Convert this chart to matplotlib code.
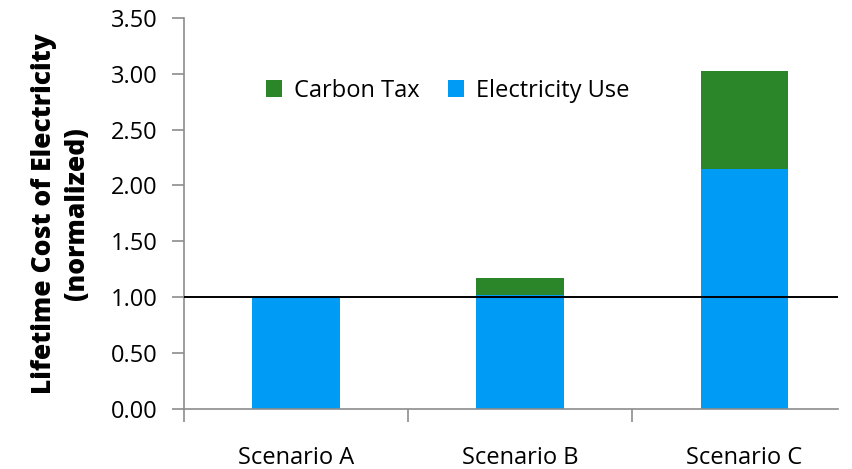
import matplotlib.pyplot as plt
import numpy as np

# Data
scenarios = ['Scenario A', 'Scenario B', 'Scenario C']
electricity_use = [1.00, 1.02, 2.15]
carbon_tax = [0.00, 0.155, 0.875]
baseline = 1.0

blue = '#009bf4'
green = '#2b8529'
grey = '#8c8c8c'

plt.rcParams['font.family'] = ['Open Sans', 'DejaVu Sans']

fig = plt.figure(figsize=(8.52, 4.69), dpi=100)
ax = fig.add_axes([0.216, 0.128, 0.768, 0.834])

x = np.arange(len(scenarios))
ax.bar(x, electricity_use, width=0.39, color=blue, label='Electricity Use', zorder=2)
ax.bar(x, carbon_tax, width=0.39, bottom=electricity_use, color=green, label='Carbon Tax', zorder=2)
ax.axhline(baseline, color='black', linewidth=1.4, zorder=3)

ax.set_xlim(-0.5, 2.42)
ax.set_ylim(0, 3.5)
ax.set_yticks(np.arange(0, 3.51, 0.5))
ax.set_yticklabels([f'{v:.2f}' for v in np.arange(0, 3.51, 0.5)], fontsize=17)

# Category labels between boundary ticks
ax.set_xticks(x)
ax.set_xticklabels(scenarios, fontsize=17)
ax.tick_params(axis='x', which='major', length=0, pad=27)
ax.set_xticks([-0.5, 0.5, 1.5], minor=True)
ax.tick_params(axis='x', which='minor', length=9, color=grey, width=1.2)
ax.tick_params(axis='y', length=9, color=grey, width=1.2, pad=10)

for side in ['top', 'right']:
    ax.spines[side].set_visible(False)
for side in ['left', 'bottom']:
    ax.spines[side].set_color(grey)
    ax.spines[side].set_linewidth(1.2)

ax.set_ylabel('Lifetime Cost of Electricity\n(normalized)', fontsize=19,
              fontweight='heavy', labelpad=15, linespacing=1.35)

handles, labels = ax.get_legend_handles_labels()
ax.legend(handles[::-1], labels[::-1], ncol=2, loc='center',
          bbox_to_anchor=(0.403, 0.813), frameon=False, fontsize=17,
          handlelength=0.7, handleheight=0.7, handletextpad=0.5,
          columnspacing=1.2)

fig.savefig('out.png', dpi=100)
